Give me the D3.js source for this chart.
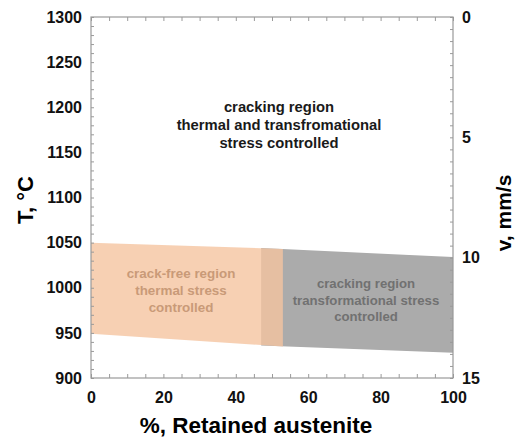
<!DOCTYPE html>
<html>
<head>
<meta charset="utf-8">
<script src="https://cdn.jsdelivr.net/npm/d3@7"></script>
<style>
  body { margin: 0; background: #fff; }
  text { font-family: "Liberation Sans", Arial, sans-serif; font-weight: bold; }
</style>
</head>
<body>
<div id="vis-container"></div>
<script>
// axis ranges and ticks
var xTicks = [0, 20, 40, 60, 80, 100];
var tTicks = [900, 950, 1000, 1050, 1100, 1150, 1200, 1250, 1300];
var vTicks = [0, 5, 10, 15];

// region outlines: [% retained austenite, T]
var crackFreeX = [0, 53, 53, 0];
var crackFreeT = [1050, 1043, 935, 949];
var transX = [47, 100, 100, 47];
var transT = [1044, 1034, 928, 936];

// annotations
var topLabel = ["cracking region", "thermal and transfromational", "stress controlled"];
var freeLabel = ["crack-free region", "thermal stress", "controlled"];
var transLabel = ["cracking region", "transformational stress", "controlled"];

var width = 515, height = 439;
// plot box (window.top is reserved, so use other names)
var pLeft = 91, pRight = 453, pTop = 17, pBottom = 378;

var svg = d3.select("#vis-container")
	.append("svg")
	.attr("width", width)
	.attr("height", height);

var x = d3.scaleLinear().domain([0, 100]).range([pLeft, pRight]);
var y = d3.scaleLinear().domain([900, 1300]).range([pBottom, pTop]);
var v = d3.scaleLinear().domain([0, 15]).range([pTop, pBottom]);

function poly(xs, ts) {
	return xs.map(function(d, i) { return [x(d), y(ts[i])]; });
}
var line = d3.line();

// gray region first, orange drawn semi-transparent on top for the overlap
svg.append("path")
	.attr("d", line(poly(transX, transT)) + "Z")
	.attr("fill", "#ababab");
svg.append("path")
	.attr("d", line(poly(crackFreeX, crackFreeT)) + "Z")
	.attr("fill", "#f5c4a0")
	.attr("fill-opacity", 0.8);

function block(lines, cx, cy, color, size, gap) {
	var t = svg.append("text")
		.attr("text-anchor", "middle")
		.attr("font-size", size)
		.attr("fill", color);
	lines.forEach(function(s, i) {
		t.append("tspan").attr("x", cx).attr("y", cy + i * gap).text(s);
	});
}
block(topLabel, 279, 112, "#1a1a1a", 14.8, 18);
block(freeLabel, 181, 278, "#c99a78", 13.4, 17);
block(transLabel, 366, 288, "#717171", 13.2, 16.5);

// axes: ticks inside the frame
var axisColor = "#9a9a9a";
function styleAxis(g) {
	g.select(".domain").remove();
	g.selectAll("line").attr("stroke", axisColor);
	g.selectAll("text").attr("fill", "#111").attr("font-size", 16);
}

var bottomAxis = svg.append("g")
	.attr("transform", "translate(0," + pBottom + ")")
	.call(d3.axisBottom(x).tickValues(d3.range(0, 101, 5))
		.tickSize(-4).tickPadding(11)
		.tickFormat(function(d) { return xTicks.indexOf(d) >= 0 ? d : ""; }));
styleAxis(bottomAxis);
bottomAxis.selectAll("text").attr("dy", "0.9em");

var topAxis = svg.append("g")
	.attr("transform", "translate(0," + pTop + ")")
	.call(d3.axisTop(x).tickValues(d3.range(0, 101, 5)).tickSize(-4).tickFormat(""));
styleAxis(topAxis);

var leftAxis = svg.append("g")
	.attr("transform", "translate(" + pLeft + ",0)")
	.call(d3.axisLeft(y).tickValues(d3.range(900, 1301, 10))
		.tickSize(-3).tickPadding(9)
		.tickFormat(function(d) { return tTicks.indexOf(d) >= 0 ? d : ""; }));
styleAxis(leftAxis);

var rightAxis = svg.append("g")
	.attr("transform", "translate(" + pRight + ",0)")
	.call(d3.axisRight(v).tickValues(d3.range(0, 15.01, 0.5))
		.tickSize(-3).tickPadding(9)
		.tickFormat(function(d) { return vTicks.indexOf(d) >= 0 ? d : ""; }));
styleAxis(rightAxis);

// frame
svg.append("rect")
	.attr("x", pLeft).attr("y", pTop)
	.attr("width", pRight - pLeft).attr("height", pBottom - pTop)
	.attr("fill", "none")
	.attr("stroke", axisColor)
	.attr("stroke-width", 1.2);

// axis titles
svg.append("text")
	.attr("x", 256).attr("y", 433)
	.attr("text-anchor", "middle")
	.attr("font-size", 22.5)
	.text("%, Retained austenite");

svg.append("text")
	.attr("transform", "translate(33,200) rotate(-90)")
	.attr("text-anchor", "middle")
	.attr("font-size", 22)
	.text("T, °C");

svg.append("text")
	.attr("transform", "translate(511,213) rotate(-90)")
	.attr("text-anchor", "middle")
	.attr("font-size", 21)
	.text("v, mm/s");
</script>
</body>
</html>
